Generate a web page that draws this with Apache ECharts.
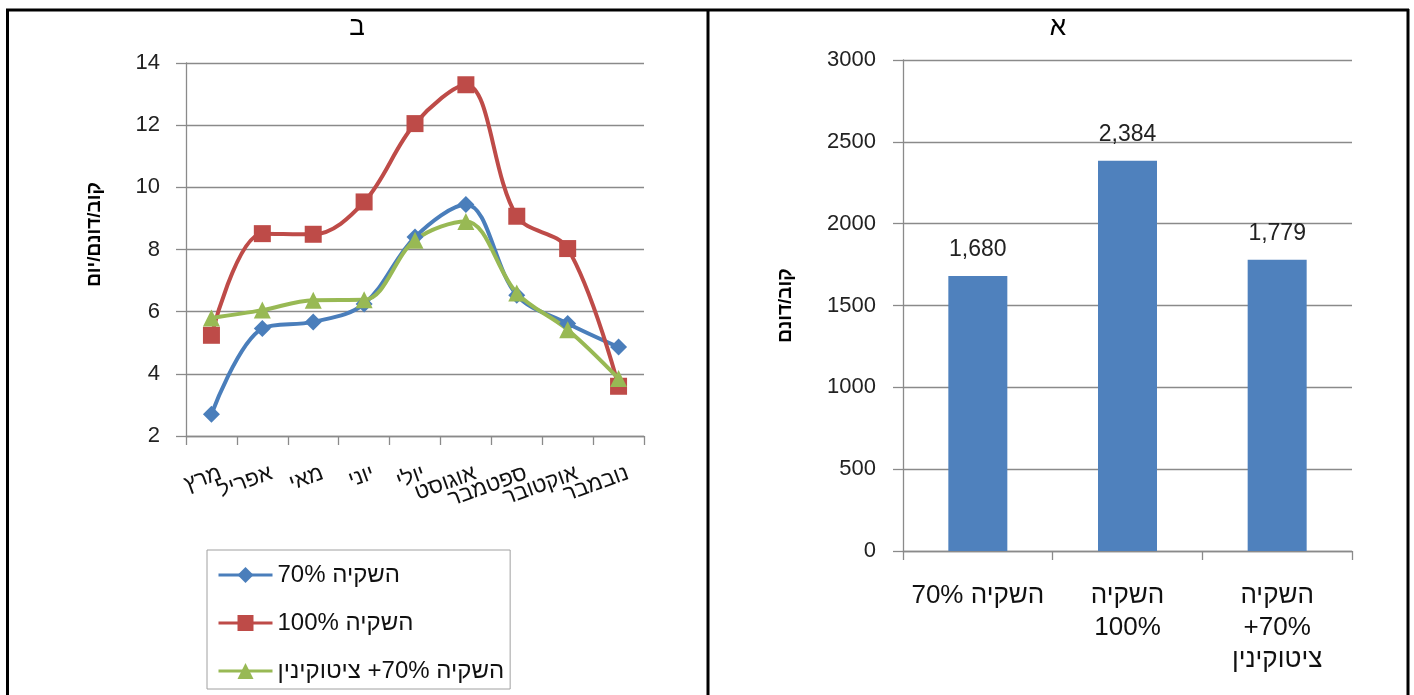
<!DOCTYPE html>
<html>
<head>
<meta charset="utf-8">
<script src="https://cdn.jsdelivr.net/npm/echarts@6/dist/echarts.min.js"></script>
<style>
html,body{margin:0;padding:0;background:#fff;}
#c{width:1414px;height:695px;}
</style>
</head>
<body>
<div id="c" dir="rtl"></div>
<script>
// ---- data ----
const months = ['מרץ','אפריל','מאי','יוני','יולי','אוגוסט','ספטמבר','אוקטובר','נובמבר'];
const seriesNames = ['השקיה 70%', 'השקיה 100%', 'השקיה 70%+ ציטוקינין'];
const irr70 = [2.70, 5.46, 5.67, 6.25, 8.40, 9.45, 6.53, 5.62, 4.86];
const irr100 = [5.24, 8.51, 8.49, 9.53, 12.05, 13.30, 9.07, 8.03, 3.60];
const irr70cyto = [5.80, 6.05, 6.37, 6.38, 8.30, 8.90, 6.60, 5.42, 3.85];
const leftTicks = {min: 2, max: 14, interval: 2};

const barCategories = ['השקיה 70%', 'השקיה\n100%', 'השקיה\n70%+\nציטוקינין'];
const barValues = [1680, 2384, 1779];
const rightTicks = {min: 0, max: 3000, interval: 500};

const titles = ['ב', 'א'];
const yNames = ['קוב/דונם/יום', 'קוב/דונם'];

// ---- chart ----
const FONT = "'Liberation Sans', 'DejaVu Sans', sans-serif";
const GRID = '#8a8a8a';
const chart = echarts.init(document.getElementById('c'), null, {renderer: 'canvas'});

const axisCommon = {
  axisLine: {show: true, lineStyle: {color: GRID, width: 1.3}},
  axisTick: {show: true, length: 10, lineStyle: {color: GRID, width: 1.3}},
  splitLine: {show: false}
};

const option = {
  animation: false,
  textStyle: {fontFamily: FONT},
  grid: [
    {left: 186, top: 63, width: 458, height: 373},
    {left: 903, top: 60, width: 449, height: 491}
  ],
  legend: {
    data: seriesNames,
    orient: 'vertical',
    left: 207, top: 550,
    itemWidth: 54, itemHeight: 20, itemGap: 24,
    padding: [13, 6, 6, 10],
    borderColor: '#a0a0a0', borderWidth: 1,
    lineStyle: {width: 3},
    textStyle: {fontSize: 24, lineHeight: 24, color: '#111', fontFamily: FONT}
  },
  xAxis: [
    Object.assign({}, axisCommon, {
      type: 'category', gridIndex: 0, data: months, boundaryGap: true,
      axisTick: {show: true, length: 9, interval: 0, lineStyle: {color: GRID, width: 1.3}},
      axisLabel: {interval: 0, rotate: 20, margin: 40, fontSize: 22, color: '#111', fontFamily: FONT, padding: [0, -10, 0, 0]}
    }),
    Object.assign({}, axisCommon, {
      type: 'category', gridIndex: 1, data: barCategories, boundaryGap: true,
      axisTick: {show: true, length: 9, interval: 0, lineStyle: {color: GRID, width: 1.3}},
      axisLabel: {interval: 0, margin: 29, fontSize: 26, lineHeight: 32, color: '#111', fontFamily: FONT}
    })
  ],
  yAxis: [
    Object.assign({}, axisCommon, {
      type: 'value', gridIndex: 0,
      min: leftTicks.min, max: leftTicks.max, interval: leftTicks.interval,
      splitLine: {show: true, lineStyle: {color: GRID, width: 1.3}},
      axisLabel: {margin: 26, fontSize: 22, color: '#222', fontFamily: FONT},
      name: yNames[0], nameLocation: 'middle', nameRotate: 90, nameGap: 82,
      nameTextStyle: {fontSize: 19, fontWeight: 'bold', color: '#000', fontFamily: FONT, padding: [0, 0, 0, 30]}
    }),
    Object.assign({}, axisCommon, {
      type: 'value', gridIndex: 1,
      min: rightTicks.min, max: rightTicks.max, interval: rightTicks.interval,
      splitLine: {show: true, lineStyle: {color: GRID, width: 1.3}},
      axisLabel: {margin: 27, fontSize: 22, color: '#222', fontFamily: FONT, formatter: v => String(v)},
      name: yNames[1], nameLocation: 'middle', nameRotate: 90, nameGap: 108,
      nameTextStyle: {fontSize: 19, fontWeight: 'bold', color: '#000', fontFamily: FONT}
    })
  ],
  graphic: [
    {type: 'line', shape: {x1: 6, y1: 10, x2: 1409, y2: 10}, style: {stroke: '#000', lineWidth: 3}},
    {type: 'line', shape: {x1: 7.5, y1: 9, x2: 7.5, y2: 695}, style: {stroke: '#000', lineWidth: 3}},
    {type: 'line', shape: {x1: 708, y1: 9, x2: 708, y2: 695}, style: {stroke: '#000', lineWidth: 3}},
    {type: 'line', shape: {x1: 1408, y1: 9, x2: 1408, y2: 695}, style: {stroke: '#000', lineWidth: 3}},
    {type: 'text', x: 357, y: 28, style: {text: titles[0], fontSize: 26, fill: '#000', fontFamily: FONT, textAlign: 'center', textVerticalAlign: 'middle'}},
    {type: 'text', x: 1058, y: 28, style: {text: titles[1], fontSize: 26, fill: '#000', fontFamily: FONT, textAlign: 'center', textVerticalAlign: 'middle'}}
  ],
  series: [
    {
      name: seriesNames[0], type: 'line', xAxisIndex: 0, yAxisIndex: 0, data: irr70,
      smooth: 0.35, symbol: 'diamond', symbolSize: 17,
      lineStyle: {color: '#4A7EBB', width: 4}, itemStyle: {color: '#4A7EBB'}
    },
    {
      name: seriesNames[1], type: 'line', xAxisIndex: 0, yAxisIndex: 0, data: irr100,
      smooth: 0.35, symbol: 'rect', symbolSize: 17,
      lineStyle: {color: '#BE4B48', width: 4}, itemStyle: {color: '#BE4B48'}
    },
    {
      name: seriesNames[2], type: 'line', xAxisIndex: 0, yAxisIndex: 0, data: irr70cyto,
      smooth: 0.35, symbol: 'triangle', symbolSize: 17,
      lineStyle: {color: '#98B954', width: 4}, itemStyle: {color: '#98B954'}
    },
    {
      type: 'bar', xAxisIndex: 1, yAxisIndex: 1, data: barValues, barWidth: 59,
      itemStyle: {color: '#4F81BD'},
      label: {
        show: true, position: 'top', distance: 15, fontSize: 23, color: '#222', fontFamily: FONT,
        formatter: p => p.value.toLocaleString('en-US')
      }
    }
  ]
};
chart.setOption(option);
</script>
</body>
</html>
